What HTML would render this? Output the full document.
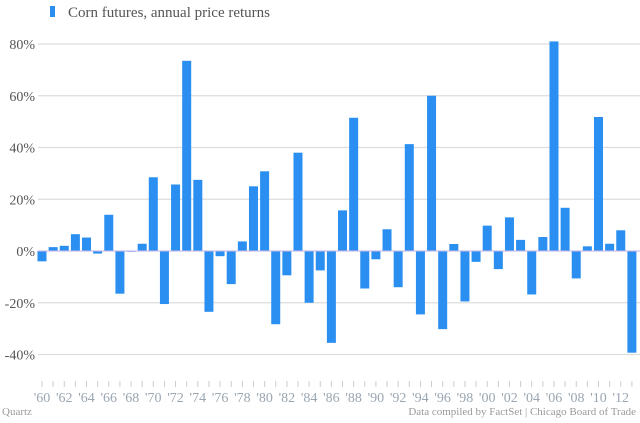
<!DOCTYPE html>
<html><head><meta charset="utf-8"><style>
body{margin:0;background:#fff;}
svg{display:block;font-family:"Liberation Serif",serif;}
</style></head><body>
<svg id="chart" width="640" height="423">
<rect x="50" y="6" width="5" height="11" fill="#2a8ff0"/>
<text x="68" y="17" font-size="15" fill="#555">Corn futures, annual price returns</text>
<g id="grid"></g><g id="bars"></g><g id="xaxis"></g>
<text x="2" y="415" font-size="11" fill="#999">Quartz</text>
<text x="636" y="415" font-size="11" fill="#999" text-anchor="end">Data compiled by FactSet | Chicago Board of Trade</text>
</svg>
<script>
const years=[];for(let y=1960;y<=2013;y++)years.push(y);
const returns=[-4,1.5,2,6.5,5.2,-1,14,-16.5,-0.3,2.8,28.5,-20.5,25.7,73.5,27.5,-23.5,-2,-12.8,3.7,25,30.8,-28.3,-9.4,38,-20,-7.5,-35.5,15.7,51.5,-14.5,-3.2,8.4,-14,41.3,-24.5,60,-30.2,2.7,-19.5,-4.2,9.8,-7,13,4.3,-16.8,5.4,81,16.7,-10.6,1.8,51.8,2.8,8,-39.3];
const yTicks=[80,60,40,20,0,-20,-40];
const NS="http://www.w3.org/2000/svg";
const yS=v=>251-v*(207/80);
const xS=i=>42+i*11.13;
function mk(t,a,p){const e=document.createElementNS(NS,t);for(const k in a)e.setAttribute(k,a[k]);p.appendChild(e);return e;}
const g=document.getElementById('grid'),b=document.getElementById('bars'),xa=document.getElementById('xaxis');
yTicks.forEach(v=>{
 const l=mk('line',{x1:38,x2:640,y1:yS(v),y2:yS(v),stroke:'#ddd','stroke-width':1.3},g);
 
 
 const t=mk('text',{x:35,y:yS(v)+5,'font-size':14,fill:'#555','text-anchor':'end'},g);
 t.textContent=v+'%';
 
 
});
returns.forEach((v,i)=>{
 const y0=yS(Math.max(v,0)),h=Math.abs(yS(v)-yS(0));
 const r=mk('rect',{x:xS(i)-4.5,y:y0,width:9,height:Math.max(h,0.6),fill:'#2a8ff0'},b);
 
 
 const tk=mk('line',{x1:xS(i),x2:xS(i),y1:381,y2:387,stroke:'#ccc','stroke-width':1},xa);
 
 
 if(i%2===0){
  const t=mk('text',{x:xS(i),y:402,'font-size':14,fill:'#9aa6b2','text-anchor':'middle'},xa);
  t.textContent="'"+String(years[i]).slice(2);
  
  
 }
});
const z=mk('line',{x1:38,x2:640,y1:yS(0),y2:yS(0),stroke:'#c9b8e8','stroke-width':1},b);


</script>
</body></html>
